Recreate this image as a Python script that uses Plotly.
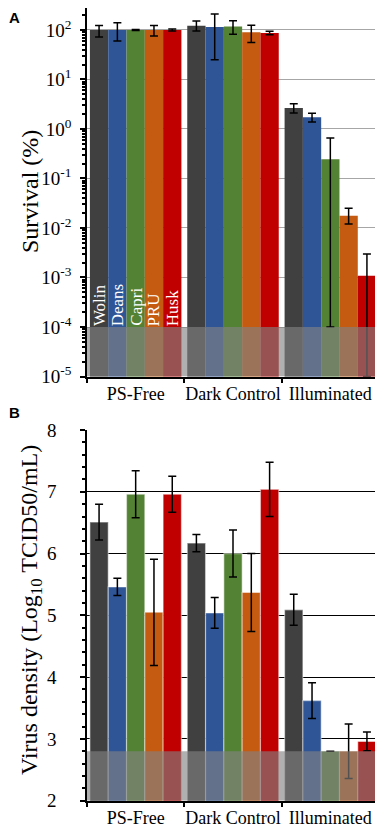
import plotly.graph_objects as go

strains = ["Wolin", "Deans", "Capri", "PRU", "Husk"]
colors = ["#404040", "#2F5597", "#548235", "#C55A11", "#C00000"]
conditions = ["PS-Free", "Dark Control", "Illuminated"]

# Panel A: survival (%)
surv_wolin = [100, 122, 2.65]
surv_deans = [100, 115, 1.72]
surv_capri = [100, 117, 0.245]
surv_pru = [100, 90, 0.0176]
surv_husk = [100, 87, 0.00108]
surv_plus_wolin = [23, 30, 0.6]
surv_plus_deans = [40, 95, 0.35]
surv_plus_capri = [2, 37, 0.41]
surv_plus_pru = [23, 34, 0.0075]
surv_plus_husk = [5, 7, 0.0019]
surv_minus_wolin = [28, 27, 0.55]
surv_minus_deans = [40, 90, 0.33]
surv_minus_capri = [2, 35, 0.2449]
surv_minus_pru = [24, 34, 0.0055]
surv_minus_husk = [5, 7, 0.00107]

# Panel B: virus density (log10 TCID50/mL)
virus_wolin = [6.51, 6.17, 5.09]
virus_deans = [5.46, 5.04, 3.62]
virus_capri = [6.96, 6.00, 2.80]
virus_pru = [5.05, 5.37, 2.80]
virus_husk = [6.96, 7.04, 2.96]
virus_err_wolin = [0.29, 0.14, 0.25]
virus_err_deans = [0.14, 0.25, 0.29]
virus_err_capri = [0.38, 0.38, 0.0]
virus_err_pru = [0.86, 0.63, 0.44]
virus_err_husk = [0.29, 0.44, 0.15]

surv_tickvals = [1e-5, 1e-4, 1e-3, 1e-2, 1e-1, 1e0, 1e1, 1e2]
surv_ticktext = ["10<sup>-5</sup>", "10<sup>-4</sup>", "10<sup>-3</sup>", "10<sup>-2</sup>",
                 "10<sup>-1</sup>", "10<sup>0</sup>", "10<sup>1</sup>", "10<sup>2</sup>"]
surv_limit = [1e-5, 1e-4]
virus_limit = [2, 2.8]

surv_vals = [surv_wolin, surv_deans, surv_capri, surv_pru, surv_husk]
surv_plus = [surv_plus_wolin, surv_plus_deans, surv_plus_capri, surv_plus_pru, surv_plus_husk]
surv_minus = [surv_minus_wolin, surv_minus_deans, surv_minus_capri, surv_minus_pru, surv_minus_husk]
virus_vals = [virus_wolin, virus_deans, virus_capri, virus_pru, virus_husk]
virus_errs = [virus_err_wolin, virus_err_deans, virus_err_capri, virus_err_pru, virus_err_husk]

SERIF = "Liberation Serif"
OFF = 8            # default page body margin
W, H = 383 - OFF, 828 - OFF
BARGAP = 0.06


def px_x(px):
    return min(1.0, max(0.0, (px - OFF) / W))


def px_y(py):
    return min(1.0, max(0.0, (H + OFF - py) / H))


fig = go.Figure()
for i, s in enumerate(strains):
    fig.add_trace(go.Bar(
        x=conditions, y=surv_vals[i], name=s, marker_color=colors[i],
        marker_line_width=0, xaxis="x", yaxis="y", showlegend=False,
        offsetgroup=str(i),
        error_y=dict(type="data", symmetric=False, array=surv_plus[i], arrayminus=surv_minus[i],
                     color="black", thickness=1.5, width=4)))
for i, s in enumerate(strains):
    fig.add_trace(go.Bar(
        x=conditions, y=virus_vals[i], name=s, marker_color=colors[i],
        marker_line=dict(color="rgba(255,255,255,0.45)", width=1.2), xaxis="x2", yaxis="y2",
        showlegend=False, offsetgroup=str(i),
        error_y=dict(type="data", array=virus_errs[i], color="black", thickness=1.5, width=4)))

xdom = [px_x(87), px_x(379)]
yA = [px_y(376.5), px_y(8)]
yB = [px_y(800.7), px_y(430)]

tickfont = dict(family=SERIF, size=19, color="black")
catfont = dict(family=SERIF, size=18, color="black")

fig.update_layout(
    width=W, height=H, margin=dict(l=0, r=0, t=0, b=0, autoexpand=False),
    paper_bgcolor="white", plot_bgcolor="white",
    font=dict(family=SERIF, color="black"),
    barmode="group", bargap=BARGAP, bargroupgap=0,
    xaxis=dict(domain=xdom, anchor="y", type="category", showline=True, linecolor="black",
               linewidth=1.5, ticks="outside", tickson="boundaries", ticklen=5, tickcolor="black",
               tickwidth=1.5, tickfont=catfont, tickangle=0, showgrid=False, automargin=False),
    yaxis=dict(domain=yA, anchor="x", type="log", range=[-5, 2.444], showline=True,
               linecolor="black", linewidth=1.5, ticks="outside", ticklen=5, tickwidth=1.5,
               tickcolor="black", tickmode="array", tickvals=surv_tickvals, ticktext=surv_ticktext,
               tickfont=tickfont, ticklabelstandoff=5, showgrid=True, gridcolor="#A6A6A6",
               gridwidth=1.2, zeroline=False, automargin=False,
               minor=dict(ticks="outside", ticklen=3, tickcolor="black", dtick="D1", showgrid=False)),
    xaxis2=dict(domain=xdom, anchor="y2", type="category", showline=True, linecolor="black",
                linewidth=1.5, ticks="outside", tickson="boundaries", ticklen=5, tickcolor="black",
                tickwidth=1.5, tickfont=catfont, tickangle=0, showgrid=False, automargin=False),
    yaxis2=dict(domain=yB, anchor="x2", range=[2, 8], showline=True, linecolor="black",
                linewidth=1.5, ticks="outside", ticklen=5, tickwidth=1.5, tickcolor="black",
                dtick=1, tickfont=tickfont, ticklabelstandoff=20, showgrid=True,
                gridcolor="black", gridwidth=1, zeroline=False, automargin=False,
                minor=dict(ticks="outside", ticklen=3, tickcolor="black", dtick=0.2, showgrid=False)),
)

overlay = "rgba(130,130,130,0.63)"
fig.add_shape(type="rect", xref="x domain", yref="y", x0=0, x1=1,
              y0=surv_limit[0], y1=surv_limit[1], fillcolor=overlay, line_width=0, layer="above")
fig.add_shape(type="rect", xref="x2 domain", yref="y2", x0=0, x1=1,
              y0=virus_limit[0], y1=virus_limit[1], fillcolor=overlay, line_width=0, layer="above")

# strain labels inside first group of panel A
n = len(strains)
bw = (1 - BARGAP) / n
for i, s in enumerate(strains):
    fig.add_annotation(x=0 + (i - (n - 1) / 2) * bw, y=-4, xref="x", yref="y",
                       text=s, textangle=-90, showarrow=False, xanchor="center", yanchor="bottom",
                       font=dict(family=SERIF, size=17, color="white"), borderpad=0)

# axis titles
fig.add_annotation(x=px_x(30), y=px_y(192), xref="paper", yref="paper", text="Survival (%)",
                   textangle=-90, showarrow=False, xanchor="center", yanchor="middle",
                   font=dict(family=SERIF, size=24, color="black"))
fig.add_annotation(x=px_x(31), y=px_y(610), xref="paper", yref="paper",
                   text="Virus density (Log<sub>10</sub> TCID50/mL)",
                   textangle=-90, showarrow=False, xanchor="center", yanchor="middle",
                   font=dict(family=SERIF, size=24, color="black"))

# panel letters
for letter, ypix in [("A", 8), ("B", 403)]:
    fig.add_annotation(x=px_x(8), y=px_y(ypix), xref="paper", yref="paper", text="<b>%s</b>" % letter,
                       showarrow=False, xanchor="left", yanchor="top", borderpad=0,
                       font=dict(family="Liberation Sans", size=15, color="black"))

fig.write_html("out.html")
